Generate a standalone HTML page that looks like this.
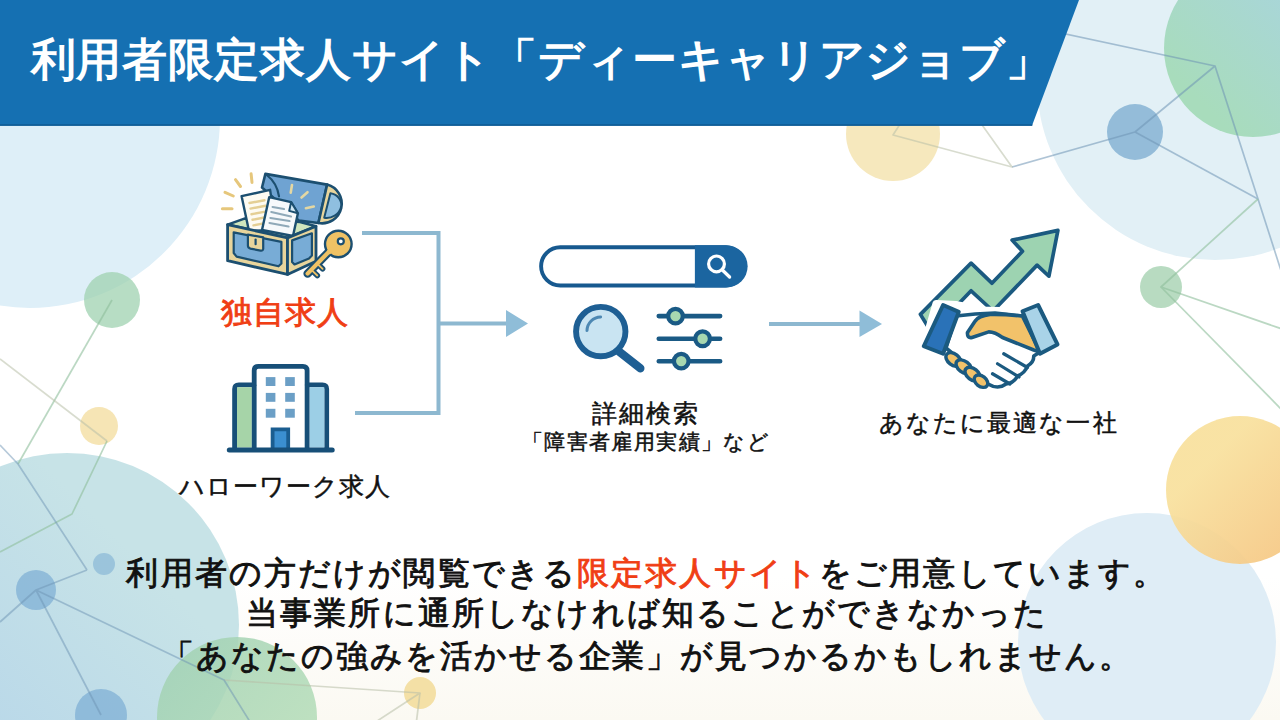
<!DOCTYPE html>
<html><head><meta charset="utf-8">
<style>
html,body{margin:0;padding:0;}
body{width:1280px;height:720px;overflow:hidden;position:relative;background:#ffffff;font-family:"Liberation Sans",sans-serif;}
svg{position:absolute;left:0;top:0;}
.t{position:absolute;white-space:nowrap;line-height:1;-webkit-text-stroke:0.9px currentColor;}
#title{-webkit-text-stroke:0;}
#l3,#l4,#l2,#l5{-webkit-text-stroke:0.5px currentColor;}
/*TXT*/
#title{left:30.58px;top:38.2px;font-size:44.50px;letter-spacing:0.88px;font-weight:bold;color:#fff;}
#l1{left:220.75px;top:298.30px;font-size:30.81px;letter-spacing:1.14px;color:#f03e14;}
#l2{left:178.75px;top:473.93px;font-size:25.48px;letter-spacing:1.08px;color:#111;}
#l3{left:592.21px;top:402.23px;font-size:24.80px;letter-spacing:1.95px;color:#111;}
#l4{left:521.87px;top:431.70px;font-size:20.80px;letter-spacing:1.40px;color:#111;}
#l5{left:878.96px;top:410.91px;font-size:24.01px;letter-spacing:2.07px;color:#111;}
#p1{left:126.39px;top:556.98px;font-size:32.00px;letter-spacing:2.13px;color:#111;}
#p2{left:245.82px;top:597.01px;font-size:32.00px;letter-spacing:2.18px;color:#111;}
#p3{left:161.76px;top:639.97px;font-size:32.00px;letter-spacing:1.98px;color:#111;}
/*ENDTXT*/
.red{color:#f03e14;}
</style></head><body>
<svg width="1280" height="720" viewBox="0 0 1280 720">
<defs>
<linearGradient id="gTR" x1="0" y1="1" x2="1" y2="0"><stop offset="0.2" stop-color="#a8dcbc"/><stop offset="1" stop-color="#a9d3e6"/></linearGradient>
<linearGradient id="gY" x1="0" y1="0" x2="1" y2="1"><stop offset="0.3" stop-color="#f8e09c"/><stop offset="1" stop-color="#f5c27e"/></linearGradient>
<linearGradient id="gTeal" x1="0" y1="1" x2="1" y2="0"><stop offset="0" stop-color="#b3d3ea"/><stop offset="0.7" stop-color="#c7e3e7"/></linearGradient>
<linearGradient id="gG" x1="0" y1="0" x2="1" y2="1"><stop offset="0" stop-color="#9fd0b2"/><stop offset="1" stop-color="#b9e0b9"/></linearGradient>
<linearGradient id="bgcream" x1="0" y1="0" x2="0" y2="1"><stop offset="0.8" stop-color="#ffffff"/><stop offset="1" stop-color="#fbf9f2"/></linearGradient>
</defs>
<rect width="1280" height="720" fill="url(#bgcream)"/>
<!-- circles -->
<circle cx="30" cy="118" r="190" fill="#deeff8"/>
<circle cx="1215" cy="82" r="178" fill="#e2f0f6"/>
<circle cx="1147" cy="642" r="129" fill="#dfedf6"/>
<circle cx="67" cy="625" r="172" fill="url(#gTeal)"/>
<circle cx="1253" cy="48" r="89" fill="url(#gTR)"/>
<circle cx="1240" cy="490" r="74" fill="url(#gY)" opacity="0.92"/>
<circle cx="893" cy="134" r="47" fill="#f6e8bd"/>
<circle cx="237" cy="717" r="80" fill="url(#gG)" opacity="0.85"/>
<circle cx="1135" cy="132" r="28" fill="#6ea3cc" opacity="0.68"/>
<circle cx="1161" cy="287" r="21" fill="#a6d2b2" opacity="0.8"/>
<circle cx="112" cy="300" r="28" fill="#9fd1b0" opacity="0.75"/>
<circle cx="99" cy="426" r="19" fill="#f6e5b5"/>
<circle cx="36" cy="590" r="20" fill="#6fa5d0" opacity="0.6"/>
<circle cx="104" cy="564" r="11" fill="#7fb0d4" opacity="0.6"/>
<circle cx="101" cy="715" r="26" fill="#6fa5d0" opacity="0.6"/>
<circle cx="420" cy="693" r="16" fill="#f4e0a6"/>
<!-- lines -->
<g fill="none" stroke-width="1.7" stroke-linejoin="round">
<g stroke="#6f95b5" opacity="0.55">
<path d="M1000 20 L1215 66 L1135 132 L1012 167"/>
<path d="M1215 66 L1258 199 L1285 283"/>
<path d="M1135 132 L1258 199"/>
</g>
<g stroke="#8fbf9c" opacity="0.6">
<path d="M1258 199 L1161 287 L1285 330"/>
<path d="M107 441 L72 514 L0 552"/>
<path d="M1161 287 L1285 413"/>
<path d="M112 300 L18 464"/>
</g>
<g stroke="#b8bfa8" opacity="0.55">
<path d="M904 118 L893 135 L1012 167 L975 115"/>
<path d="M0 359 L107 441"/>
<path d="M224 680 L420 693 L371 725"/>
<path d="M420 693 L416 725"/>
</g>
<g stroke="#6f95b5" opacity="0.5">
<path d="M0 445 L18 464 L87 570"/>
<path d="M87 570 L36 590 L0 622"/>
<path d="M36 590 L101 715"/>
<path d="M36 590 L224 680 L252 725"/>
</g>
</g>
<!-- header -->
<polygon points="0,0 1079,0 1032,125.8 0,125.8" fill="#1570b2"/>
<line x1="0" y1="125" x2="1032.3" y2="125" stroke="#0f5a92" stroke-width="1.4"/>
<!-- connectors -->
<g stroke="#8db8d0" stroke-width="4" fill="none">
<path d="M362 233 H438.5 V413 H355"/>
<path d="M438.5 323.5 H508"/>
<path d="M769 324 H861"/>
</g>
<polygon points="506,310 528,323.5 506,337" fill="#8fbdd8"/>
<polygon points="859.5,310.5 882,324 859.5,337" fill="#8fbdd8"/>
<g id="icons">
<g id="chest" stroke-linejoin="round" stroke-linecap="round">
<!-- sparkles -->
<g stroke="#e6c77c" stroke-width="3" fill="none">
<path d="M251.1 173.8 L252 182.4"/>
<path d="M235.5 179.6 L240.5 186.5"/>
<path d="M225 192.3 L233.3 196"/>
<path d="M222.4 208.8 L232 208.8"/>
</g>
<!-- lid -->
<path d="M265.4 173.9 L327.1 184.6 L318.4 223 L299 220.6 L262 187.5 Z" fill="#6fa3d2" stroke="#1c4f70" stroke-width="2.6"/>
<path d="M327.1 184.6 A19.7 19.7 0 0 1 318.4 223 Z" fill="#e8d59c" stroke="#1c4f70" stroke-width="2.6"/>
<path d="M330.4 193.3 A12.6 11 -13 0 1 324.2 217.7 Z" fill="#8fbfe0" stroke="#1c4f70" stroke-width="2"/>
<path d="M266.8 175 Q277 183 279 196.3" fill="none" stroke="#1c4f70" stroke-width="2.2"/>
<g stroke="#e3d7a3" stroke-width="2.6" fill="none">
<path d="M292 185 L290.7 192.7"/><path d="M307.5 192.2 L301.5 197.5"/><path d="M313.8 206.6 L305.9 208.3"/>
</g>
<!-- chest inside -->
<path d="M227.6 224.6 L244.4 218.6 L300 222 L316 226.2 L287.5 237.9 Z" fill="#cfe6bd" stroke="#1c4f70" stroke-width="2.6"/>
<!-- left paper -->
<path d="M241.6 196.2 L270.1 189.8 L276 230 L249 231 Z" fill="#fdfbf2" stroke="#1c4f70" stroke-width="2.4"/>
<g stroke="#e4cf94" stroke-width="2.4" fill="none">
<path d="M249.5 203 L264.5 200.2"/><path d="M250.5 208.6 L265.5 205.8"/><path d="M251.5 214.2 L266.5 211.4"/><path d="M252.5 219.8 L267 217"/><path d="M253.5 225.4 L267.5 222.6"/>
</g>
<!-- right paper -->
<path d="M269.2 197.2 L291.1 202.1 L297.9 213.3 L293 236 L262 230 Z" fill="#f6f9fb" stroke="#1c4f70" stroke-width="2.4"/>
<path d="M291.1 202.1 L289.2 210.9 L297.9 213.3 Z" fill="#cfe6f2" stroke="#1c4f70" stroke-width="2"/>
<g stroke="#8fa9b8" stroke-width="2.2" fill="none">
<path d="M272.6 207 L284 209"/><path d="M271.3 212 L291 216.5"/><path d="M270.4 218 L289.5 221"/><path d="M269.5 223 L288.5 226.5"/>
</g>
<!-- front face -->
<path d="M227.6 224.6 L287.5 237.9 L287.5 274.4 L227.6 260.7 Z" fill="#e8d59c" stroke="#1c4f70" stroke-width="2.8"/>
<path d="M233.7 232.3 L281.4 241.9 L281.4 263.5 L278.5 266.3 L236.6 256.6 L233.7 253 Z" fill="#78acd6" stroke="#1c4f70" stroke-width="2.2"/>
<path d="M247.9 234.6 L263.2 237.4 L263.2 249 Q263 251 260.5 250.6 L250.5 248.6 Q247.9 248 247.9 245.5 Z" fill="#e8d59c" stroke="#1c4f70" stroke-width="2.2"/>
<path d="M255.6 239.6 L255.6 244.2" stroke="#1c4f70" stroke-width="2.2"/>
<!-- side face -->
<path d="M287.5 237.9 L316 226.2 L316 261.2 L287.5 274.4 Z" fill="#e8d59c" stroke="#1c4f70" stroke-width="2.8"/>
<path d="M292.1 240.4 L311.9 233.3 L311.9 255.5 L309 258.5 L294.5 264.5 L292.1 262 Z" fill="#78acd6" stroke="#1c4f70" stroke-width="2.2"/>
<!-- key -->
<path d="M331 249.6 L307.6 273.6" stroke="#1c4f70" stroke-width="8.4"/>
<path d="M317.1 263.5 L322.6 268.8 M311.2 269.7 L317.3 275.5" stroke="#1c4f70" stroke-width="5.6"/>
<circle cx="338.3" cy="244" r="13.3" fill="#efc265" stroke="#1c4f70" stroke-width="2.4"/>
<path d="M331 249.6 L307.6 273.6" stroke="#efc265" stroke-width="4.2"/>
<path d="M317.1 263.5 L322.6 268.8 M311.2 269.7 L317.3 275.5" stroke="#efc265" stroke-width="1.8"/>
<path d="M329.5 251.5 L333.5 247.5" stroke="#efc265" stroke-width="5"/>
<circle cx="340.8" cy="241.3" r="3" fill="#fff" stroke="#1c4f70" stroke-width="2.2"/>
</g>

<g id="building">
<path d="M234.6 450 V389 Q234.6 384.8 238.8 384.8 H254.2 V370.5 Q254.2 366.3 258.4 366.3 H302.9 Q307.1 366.3 307.1 370.5 V384.8 H322.5 Q326.7 384.8 326.7 389 V450" fill="#fff" stroke="#174f78" stroke-width="4.8" stroke-linejoin="round"/>
<rect x="237" y="387.2" width="14.8" height="60.4" fill="#a6d4a8"/>
<rect x="309.5" y="387.2" width="14.8" height="60.4" fill="#9ccfe6"/>
<path d="M254.2 384.8 V450 M307.1 384.8 V450" stroke="#174f78" stroke-width="4.8"/>
<g fill="#6b9fc6">
<rect x="265.8" y="377.1" width="9.6" height="8.9"/><rect x="285.2" y="377.1" width="9.6" height="8.9"/>
<rect x="265.8" y="392.9" width="9.6" height="8.9"/><rect x="285.2" y="392.9" width="9.6" height="8.9"/>
<rect x="265.8" y="408.8" width="9.6" height="8.9"/><rect x="285.2" y="408.8" width="9.6" height="8.9"/>
</g>
<path d="M272.6 450 V429.4 H288.2 V450" fill="#3b8fd0" stroke="#1a5d90" stroke-width="3.8"/>
<path d="M229.3 450 H332.2" stroke="#174f78" stroke-width="5" stroke-linecap="round"/>
</g>
<g id="search">
<rect x="541.1" y="247.2" width="203.4" height="38.3" rx="19.15" fill="#fff" stroke="#17598f" stroke-width="3.9"/>
<path d="M694.9 245.3 H726.6 A21.05 21.05 0 0 1 726.6 287.4 H694.9 Z" fill="#1b65a0"/>
<circle cx="716.5" cy="263.9" r="7.9" fill="none" stroke="#fff" stroke-width="3.2"/>
<path d="M722.6 270.2 L729.6 277" stroke="#fff" stroke-width="3.3" stroke-linecap="round"/>
<circle cx="600.75" cy="331.6" r="24.7" fill="#c9e4f2" stroke="#1e5f94" stroke-width="5.9"/>
<path d="M587 330.5 A14 14 0 0 1 600.6 316.9" fill="none" stroke="#4d88b3" stroke-width="3" stroke-linecap="round"/>
<path d="M619 351.5 L640.3 368.3" stroke="#1e5f94" stroke-width="8.4" stroke-linecap="round"/>
<g stroke="#1a5a85" stroke-width="4.7" stroke-linecap="round">
<path d="M658.8 316.1 H720.1 M658.8 338.75 H720.1 M658.8 361.25 H720.1"/>
</g>
<g fill="#a8d8b0" stroke="#1a5a85" stroke-width="4.2">
<circle cx="675.5" cy="316.1" r="7.3"/><circle cx="702.6" cy="338.75" r="7.3"/><circle cx="681.25" cy="361.1" r="7.3"/>
</g>
</g>
<g id="hand" stroke-linejoin="round" stroke-linecap="round">
<path d="M920.4 314.4 L971.1 263.1 L991.9 283.2 L1022.5 251.25 L1012.1 240.1 L1057.9 230.4 L1048.9 276.25 L1037.1 265.1 L993 311 L971.1 290.8 L945 318 L930 330 Z" fill="#9dd3b1" stroke="#1b5a80" stroke-width="3.7"/>
<!-- white separation silhouette -->
<path d="M936 303.5 L956 304.5 L982 310 L1000 310.5 L1022.5 310.5 L1038.1 305 L1057.5 344.4 L1040 353.75 L1033.75 355 L1027.5 365 L1017.5 375 L1008.75 382.5 L996.25 386.25 L985 383 L975 388 L962 382 L950 372 L945 351.25 L943.1 353.75 L923.75 346.25 Z" fill="#fff" stroke="#fff" stroke-width="7"/>
<!-- white hand -->
<path d="M956 316 Q975 313.5 995 313 L1022.5 316 L1040 352 L1033.75 356 Q1034 362 1027.5 366 Q1025 373 1017.5 376 Q1014 383 1006 384 Q998 390 988 384 L970 368 L946 348 Z" fill="#fff" stroke="#1b5a80" stroke-width="3.6"/>
<path d="M1003.75 353.75 L1027.5 367.5 M997.5 363.75 L1019 377 M992.5 373.75 L1010 384" fill="none" stroke="#1b5a80" stroke-width="3.2"/>
<!-- yellow hand -->
<path d="M1022.5 316.25 Q1005 314 990 314.4 Q978 316 975 321.25 L967.5 332.5 Q967 338.5 972 337.5 L988.75 331.9 Q995 332 1002.5 337.5 L1033.75 350 L1040 352 Z" fill="#f2c26a" stroke="#1b5a80" stroke-width="3.6"/>
<!-- yellow fingers -->
<g fill="#f2c26a" stroke="#1b5a80" stroke-width="3.4">
<ellipse cx="953.5" cy="359.5" rx="5.6" ry="8.6" transform="rotate(-52 953.5 359.5)"/>
<ellipse cx="963.8" cy="366.8" rx="5.6" ry="8.8" transform="rotate(-52 963.8 366.8)"/>
<ellipse cx="972.6" cy="374.2" rx="5.6" ry="8.6" transform="rotate(-52 972.6 374.2)"/>
<ellipse cx="981" cy="381.2" rx="5.2" ry="7.6" transform="rotate(-52 981 381.2)"/>
</g>
<!-- cuffs -->
<path d="M943.1 305 L958.75 311.9 L943.1 353.75 L923.75 346.25 Z" fill="#2a72b8" stroke="#1b5a80" stroke-width="4"/>
<path d="M1022.5 311.25 L1038.1 305 L1057.5 344.4 L1040 353.75 Z" fill="#a9d3e8" stroke="#1b5a80" stroke-width="4"/>
</g>
</g>
</svg>
<div class="t" id="title">利用者限定求人サイト「ディーキャリアジョブ」</div>
<div class="t" id="l1">独自求人</div>
<div class="t" id="l2">ハローワーク求人</div>
<div class="t" id="l3">詳細検索</div>
<div class="t" id="l4">「障害者雇用実績」など</div>
<div class="t" id="l5">あなたに最適な一社</div>
<div class="t" id="p1">利用者の方だけが閲覧できる<span class="red">限定求人サイト</span>をご用意しています。</div>
<div class="t" id="p2">当事業所に通所しなければ知ることができなかった</div>
<div class="t" id="p3">「あなたの強みを活かせる企業」が見つかるかもしれません。</div>
</body></html>
